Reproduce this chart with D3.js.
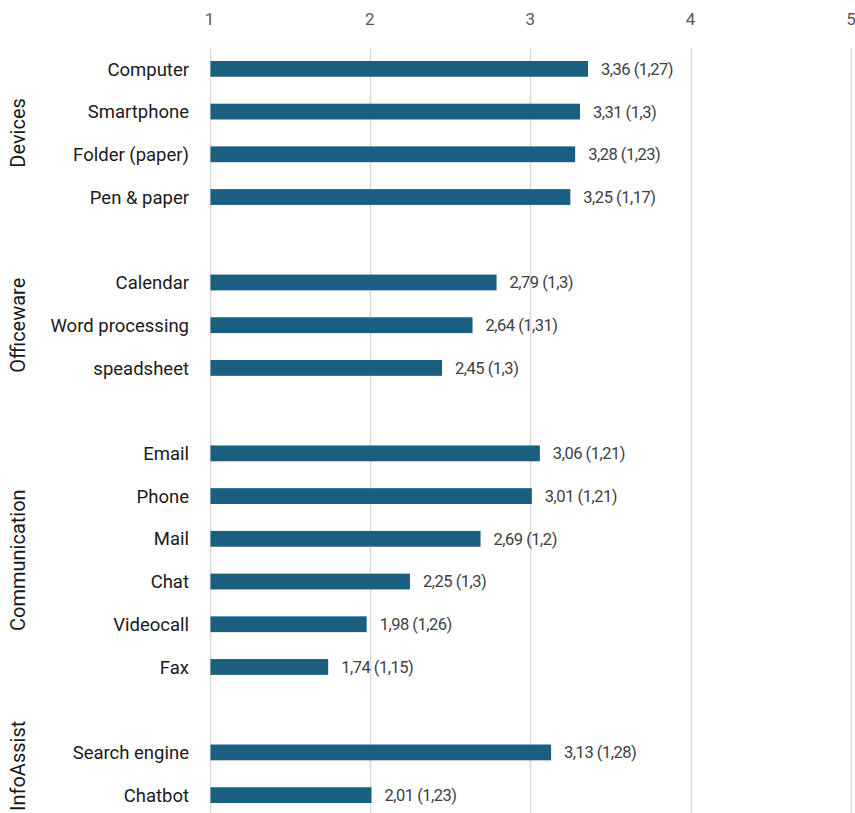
<!DOCTYPE html>
<html>
<head>
<meta charset="utf-8">
<script src="https://cdn.jsdelivr.net/npm/d3@7"></script>
<style>
  body { margin: 0; background: #fff; }
  text { font-family: Roboto, "Noto Sans", sans-serif; }
</style>
</head>
<body>
<div id="chart"></div>
<script>
// data
const groups = ["Devices", "Officeware", "Communication", "InfoAssist"];
const categories = [
  ["Computer", "Smartphone", "Folder (paper)", "Pen & paper"],
  ["Calendar", "Word processing", "speadsheet"],
  ["Email", "Phone", "Mail", "Chat", "Videocall", "Fax"],
  ["Search engine", "Chatbot"]
];
const means = [
  [3.36, 3.31, 3.28, 3.25],
  [2.79, 2.64, 2.45],
  [3.06, 3.01, 2.69, 2.25, 1.98, 1.74],
  [3.13, 2.01]
];
const sds = [
  [1.27, 1.3, 1.23, 1.17],
  [1.3, 1.31, 1.3],
  [1.21, 1.21, 1.2, 1.3, 1.26, 1.15],
  [1.28, 1.23]
];
const ticks = [1, 2, 3, 4, 5];

const width = 855, height = 813;
const marginLeft = 209.5, marginRight = 4, gridTop = 48;

const fmt = v => String(v).replace(".", ",");

// flatten into rows, with one empty slot between groups
const rows = [];
groups.forEach((g, gi) => {
  if (gi > 0) rows.push({slot: "gap" + gi});
  categories[gi].forEach((c, i) => rows.push({slot: c, group: g, name: c, mean: means[gi][i], sd: sds[gi][i]}));
});

const svg = d3.select("#chart").append("svg")
  .attr("width", width)
  .attr("height", height);

const x = d3.scaleLinear([1, 5], [marginLeft, width - marginRight]);
const y = d3.scaleBand(rows.map(d => d.slot), [47.5, 816.5]).paddingInner(0.63).paddingOuter(0.315);

// grid lines
svg.append("g").selectAll("line")
  .data(ticks)
  .join("line")
  .attr("x1", d => Math.round(x(d)) + 0.5)
  .attr("x2", d => Math.round(x(d)) + 0.5)
  .attr("y1", gridTop)
  .attr("y2", height)
  .attr("stroke", "#d9d9d9")
  .attr("stroke-width", 1.5);

// top axis labels
svg.append("g").selectAll("text")
  .data(ticks)
  .join("text")
  .attr("x", d => x(d))
  .attr("y", 25)
  .attr("text-anchor", "middle")
  .attr("fill", "#595959")
  .attr("font-size", 17)
  .text(d => d);

const data = rows.filter(d => d.name);

svg.append("g").selectAll("rect")
  .data(data)
  .join("rect")
  .attr("x", x(1) + 1)
  .attr("y", d => y(d.slot))
  .attr("width", d => x(d.mean) - x(1) - 1)
  .attr("height", y.bandwidth())
  .attr("fill", "#1a5e80");

// value labels
svg.append("g").selectAll("text")
  .data(data)
  .join("text")
  .attr("x", d => x(d.mean) + 13)
  .attr("y", d => y(d.slot) + y.bandwidth() / 2)
  .attr("dy", "0.36em")
  .attr("fill", "#404040")
  .attr("font-size", 16.5)
  .attr("letter-spacing", -0.5)
  .text(d => `${fmt(d.mean)} (${fmt(d.sd)})`);

// category labels
svg.append("g").selectAll("text")
  .data(data)
  .join("text")
  .attr("x", 189)
  .attr("y", d => y(d.slot) + y.bandwidth() / 2)
  .attr("dy", "0.36em")
  .attr("text-anchor", "end")
  .attr("fill", "#1a1a1a")
  .attr("font-size", 18.5)
  .text(d => d.name);

// group labels (rotated), kept inside the bottom edge
svg.append("g").selectAll("text")
  .data(groups)
  .join("text")
  .attr("text-anchor", "middle")
  .attr("fill", "#1a1a1a")
  .attr("font-size", 20)
  .text(g => g)
  .attr("transform", function(g) {
    const members = data.filter(d => d.group === g);
    const y0 = y(members[0].slot), y1 = y(members[members.length - 1].slot) + y.bandwidth();
    const half = this.getComputedTextLength() / 2;
    const cy = Math.min((y0 + y1) / 2, height - 2 - half);
    return `translate(25,${cy}) rotate(-90)`;
  });
</script>
</body>
</html>
